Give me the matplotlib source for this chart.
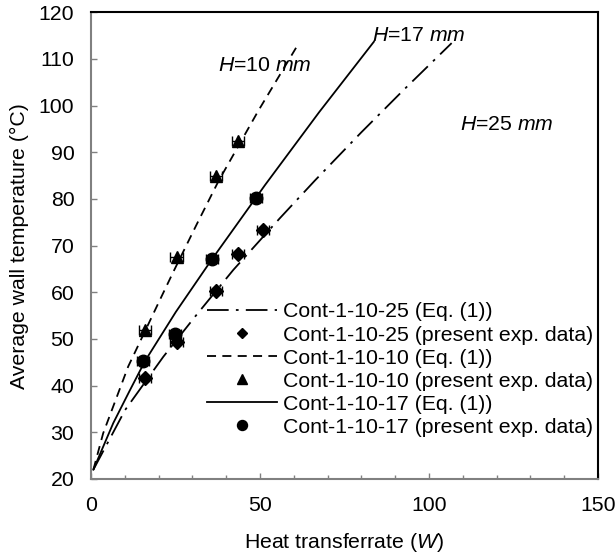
import matplotlib
matplotlib.use("Agg")
import matplotlib.pyplot as plt

plt.rcParams['font.family'] = ['Liberation Sans', 'DejaVu Sans']
plt.rcParams['mathtext.fontset'] = 'custom'
plt.rcParams['mathtext.rm'] = 'Liberation Sans'
plt.rcParams['mathtext.it'] = 'Liberation Sans:italic'

# Eq. (1) curves
eq25_x = [0.7, 10.1, 21.4, 30.8, 42.1, 55.9, 66.3, 80.0, 92.4, 106.7]
eq25_y = [22.0, 34.8, 46.2, 54.8, 64.8, 75.9, 84.0, 94.3, 103.3, 113.4]
eq10_x = [0.7, 3.6, 11.0, 20.4, 24.3, 31.3, 37.7, 49.5, 61.5]
eq10_y = [22.0, 29.8, 44.1, 58.4, 64.3, 74.6, 83.8, 98.9, 113.4]
eq17_x = [0.7, 6.6, 11.5, 16.0, 25.1, 35.7, 51.5, 67.5, 83.7]
eq17_y = [22.0, 32.0, 39.0, 45.3, 55.8, 67.0, 83.0, 98.6, 113.7]

# experimental data
exp25_x = [16.0, 25.3, 37.0, 43.4, 51.0]
exp25_y = [41.6, 49.4, 60.3, 68.2, 73.3]
exp10_x = [16.0, 25.3, 37.0, 43.6]
exp10_y = [52.0, 67.6, 85.0, 92.4]
exp17_x = [15.5, 24.9, 35.7, 48.8]
exp17_y = [45.3, 51.0, 67.2, 80.3]
x_err = 1.8

labels = ['Cont-1-10-25 (Eq. (1))', 'Cont-1-10-25 (present exp. data)',
          'Cont-1-10-10 (Eq. (1))', 'Cont-1-10-10 (present exp. data)',
          'Cont-1-10-17 (Eq. (1))', 'Cont-1-10-17 (present exp. data)']

fig = plt.figure(figsize=(6.16, 5.53), dpi=100)
ax = fig.add_axes([91/616, 1-479/553, 507/616, (479-12.3)/553])

fs = 15.3
l1, = ax.plot(eq25_x, eq25_y, color='black', lw=1.3, dashes=[12, 4, 1.5, 4])
ax.errorbar(exp25_x, exp25_y, xerr=x_err, fmt='none', ecolor='black', elinewidth=1, capsize=3.5)
m1, = ax.plot(exp25_x, exp25_y, 'D', color='black', ms=7, ls='none')
l2, = ax.plot(eq10_x, eq10_y, color='black', lw=1.3, dashes=[5, 3.5])
ax.errorbar(exp10_x, exp10_y, xerr=x_err, fmt='none', ecolor='black', elinewidth=1, capsize=3.5)
m2, = ax.plot(exp10_x, exp10_y, '^', color='black', ms=9, ls='none')
l3, = ax.plot(eq17_x, eq17_y, color='black', lw=1.3)
ax.errorbar(exp17_x, exp17_y, xerr=x_err, fmt='none', ecolor='black', elinewidth=1, capsize=3.5)
m3, = ax.plot(exp17_x, exp17_y, 'o', color='black', ms=9, ls='none')

ax.set_xlim(0, 150)
ax.set_ylim(20, 120)
ax.set_xticks([0, 50, 100, 150])
ax.set_xticks(range(0, 151, 10), minor=True)
ax.set_yticks(range(20, 121, 10))
ax.tick_params(axis='both', which='both', direction='in', colors='#808080', labelcolor='black', labelsize=fs)
ax.tick_params(axis='both', which='major', length=4, width=1)
ax.tick_params(axis='x', which='minor', length=3, width=1)
ax.tick_params(axis='x', pad=12)
ax.tick_params(axis='y', pad=12)
for s in ['left', 'bottom']:
    ax.spines[s].set_color('#808080')
    ax.spines[s].set_linewidth(1.5)
for s in ['top', 'right']:
    ax.spines[s].set_color('black')
    ax.spines[s].set_linewidth(1.5)

ax.set_xlabel('Heat transferrate ($\\mathit{W}$)', fontsize=fs, labelpad=12)
ax.set_ylabel('Average wall temperature (°C)', fontsize=fs, labelpad=7)

ax.text(37.6, 108.7, '$\\mathit{H}$=10 $\\mathit{mm}$', fontsize=fs, va='center', ha='left')
ax.text(83.2, 115.1, '$\\mathit{H}$=17 $\\mathit{mm}$', fontsize=fs, va='center', ha='left')
ax.text(109.2, 96.0, '$\\mathit{H}$=25 $\\mathit{mm}$', fontsize=fs, va='center', ha='left')

leg = ax.legend([l1, m1, l2, m2, l3, m3], labels, loc='center right',
                bbox_to_anchor=(0.99, 0.2345), frameon=False, fontsize=fs,
                handlelength=3.3, handletextpad=0.25, labelspacing=0.19,
                borderaxespad=0, borderpad=0, markerscale=0.8)

fig.savefig('out.png', dpi=100)
